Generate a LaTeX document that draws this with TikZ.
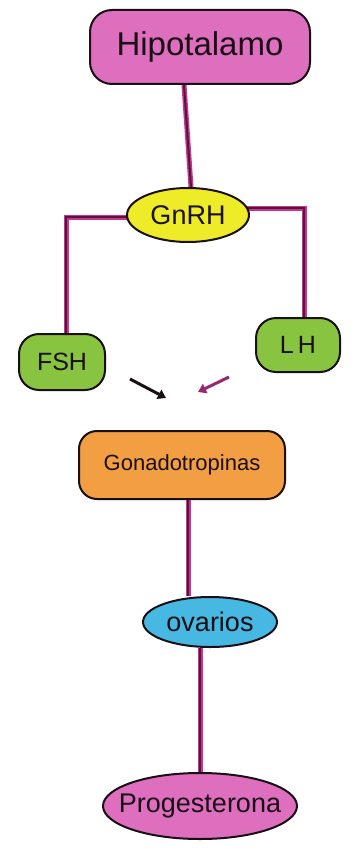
\documentclass[tikz,border=0pt]{standalone}
\usepackage{fontspec}
\setmainfont{Liberation Sans}
\usetikzlibrary{shapes.geometric,arrows.meta}
\definecolor{pinkfill}{RGB}{222,110,190}
\definecolor{yellowfill}{RGB}{238,236,40}
\definecolor{greenfill}{RGB}{136,196,64}
\definecolor{orangefill}{RGB}{242,158,66}
\definecolor{bluefill}{RGB}{70,184,226}
\definecolor{linkcol}{RGB}{205,50,145}
\definecolor{inkcol}{RGB}{25,15,20}
\pgfdeclarelayer{background}
\pgfsetlayers{background,main}
\begin{document}
\begin{tikzpicture}[x=1pt,y=-1pt,
  blob/.style={draw=inkcol,line width=2pt,rounded corners=22pt,inner sep=0pt,align=center,text=inkcol},
  oval/.style={ellipse,draw=inkcol,line width=2pt,inner xsep=-10pt,inner ysep=-4pt,align=center,text=inkcol},
  link/.style={draw=inkcol!70!linkcol,line width=2pt,preaction={draw=linkcol,line width=5pt}},
  arr/.style={line width=3pt,-{Triangle[length=8pt,width=10pt]}}]
\useasboundingbox (0,0) rectangle (352,856);
% nodes
\node[blob,fill=pinkfill,minimum width=220pt,minimum height=74pt,font=\fontsize{33}{35}\selectfont] (hipo) at (200,47) {Hipotalamo};
\node[oval,fill=yellowfill,minimum width=122pt,minimum height=54pt,font=\fontsize{27}{29}\selectfont] (gnrh) at (188,215) {GnRH};
\node[blob,fill=greenfill,rounded corners=20pt,minimum width=86pt,minimum height=56pt,font=\fontsize{25}{27}\selectfont] (fsh) at (62,362) {FSH};
\node[blob,fill=greenfill,rounded corners=20pt,minimum width=84pt,minimum height=54pt,font=\fontsize{25}{27}\selectfont] (lh) at (298,345) {L\,H};
\node[blob,fill=orangefill,rounded corners=18pt,minimum width=206pt,minimum height=68pt,font=\fontsize{22}{24}\selectfont] (gona) at (182,465) {Gonadotropinas};
\node[oval,fill=bluefill,minimum width=134pt,minimum height=50pt,inner xsep=-12pt,font=\fontsize{27}{29}\selectfont] (ova) at (210,622) {ovarios};
\node[oval,fill=pinkfill,minimum width=194pt,minimum height=66pt,inner xsep=-14pt,font=\fontsize{27}{29}\selectfont] (prog) at (200,806) {Progesterona};
% corner coordinates
\coordinate (lc) at (66,217);
\coordinate (rc) at (304,208);
% arrow coordinates
\coordinate (a1s) at (130,379);
\coordinate (a1e) at (166,398);
\coordinate (a2s) at (229,377);
\coordinate (a2e) at (198,392);
% connectors
\begin{pgfonlayer}{background}
\fill[white] (0,0) rectangle (352,856);
\path[link] (hipo.south -| 184,0) -- (gnrh.north -| 191,0);
\path[link] (gnrh.center |- lc) -- (lc) -- (fsh.north -| 66,0);
\path[link] (gnrh.center |- rc) -- (rc) -- (lh.north -| 304,0);
\path[link] (gona.south -| 188,0) -- (ova.north -| 188,0);
\path[link] (ova.south -| 200,0) -- (prog.north -| 200,0);
\end{pgfonlayer}
% arrows
\draw[arr,inkcol] (a1s) -- (a1e);
\draw[arr,linkcol!70!inkcol] (a2s) -- (a2e);
\end{tikzpicture}
\end{document}
